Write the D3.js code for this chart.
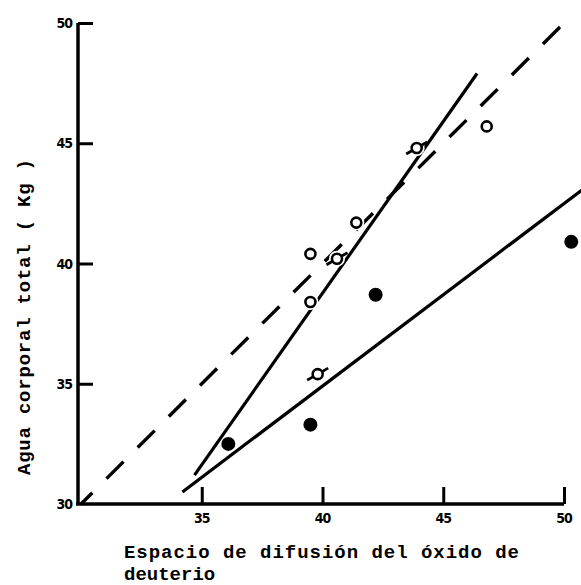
<!DOCTYPE html>
<html>
<head>
<meta charset="utf-8">
<script src="https://cdn.jsdelivr.net/npm/d3@7"></script>
<style>
  html, body { margin: 0; padding: 0; background: #fff; }
  svg { display: block; }
</style>
</head>
<body>
<svg id="chart" width="581" height="585"></svg>
<script>
// ---- data ----
const xTicks = [35, 40, 45, 50];
const yTicks = [30, 35, 40, 45, 50];
const openX = [39.5, 41.4, 46.8, 39.5];
const openY = [40.4, 41.7, 45.7, 38.4];
const barredX = [40.6, 43.9, 39.8];
const barredY = [40.2, 44.8, 35.4];
const filledX = [36.1, 39.5, 42.2, 50.3];
const filledY = [32.5, 33.3, 38.7, 40.9];
const identityLine = [[30, 30], [50.1, 50.1]];
const steepLine = [[34.7, 31.2], [46.4, 47.9]];
const shallowLine = [[34.2, 30.5], [50.8, 43.1]];
const xTitle1 = "Espacio de difusión del óxido de";
const xTitle2 = "deuterio";
const yTitle = "Agua corporal total ( Kg )";

// ---- drawing ----
const svg = d3.select("#chart");
const x = d3.scaleLinear().domain([30, 50]).range([81, 564]);
const y = d3.scaleLinear().domain([30, 50]).range([504, 23]);
const ink = "#000";
const tickFont = "'Liberation Sans Narrow', 'DejaVu Sans Condensed', 'Arial Narrow', sans-serif";
const monoFont = "'Liberation Mono', 'DejaVu Sans Mono', monospace";

// axes lines
svg.append("line").attr("x1", 78).attr("x2", 78).attr("y1", y(50)).attr("y2", 505)
  .attr("stroke", ink).attr("stroke-width", 3.5);
svg.append("line").attr("x1", 76).attr("x2", x(50)).attr("y1", 504).attr("y2", 504)
  .attr("stroke", ink).attr("stroke-width", 3.5);

// y ticks (inside, to the right)
const yAxis = d3.axisRight(y).tickValues(yTicks.filter(d => d !== 30)).tickSize(15).tickFormat("");
const gy = svg.append("g").attr("transform", "translate(78,0)").call(yAxis);
gy.select(".domain").remove();
gy.selectAll(".tick line").attr("stroke", ink).attr("stroke-width", 3);

// x ticks (inside, upward)
const xAxis = d3.axisTop(x).tickValues(xTicks).tickSize(17).tickFormat("");
const gx = svg.append("g").attr("transform", "translate(0,504)").call(xAxis);
gx.select(".domain").remove();
gx.selectAll(".tick line").attr("stroke", ink).attr("stroke-width", 3);

// tick labels
svg.append("g").selectAll("text").data(yTicks).join("text")
  .attr("x", 72).attr("y", d => y(d)).attr("dy", "0.36em")
  .attr("text-anchor", "end")
  .attr("font-family", tickFont).attr("font-weight", "bold").attr("font-size", 14)
  .attr("letter-spacing", -1)
  .text(d => d);
svg.append("g").selectAll("text").data(xTicks).join("text")
  .attr("x", d => x(d)).attr("y", 523)
  .attr("text-anchor", "middle")
  .attr("font-family", tickFont).attr("font-weight", "bold").attr("font-size", 14)
  .attr("letter-spacing", -1)
  .text(d => d);

// lines
const lineGen = d3.line().x(d => x(d[0])).y(d => y(d[1]));
svg.append("path").attr("d", lineGen(identityLine))
  .attr("fill", "none").attr("stroke", ink).attr("stroke-width", 3.4)
  .attr("stroke-dasharray", "24,20").attr("stroke-dashoffset", 8);
svg.append("path").attr("d", lineGen(steepLine))
  .attr("fill", "none").attr("stroke", ink).attr("stroke-width", 3.2);
svg.append("path").attr("d", lineGen(shallowLine))
  .attr("fill", "none").attr("stroke", ink).attr("stroke-width", 3.2);

// open circles (with white halo)
const openPts = openX.map((v, i) => [v, openY[i]]);
const barredPts = barredX.map((v, i) => [v, barredY[i]]);
const filledPts = filledX.map((v, i) => [v, filledY[i]]);

svg.append("g").selectAll("circle").data(openPts.concat(barredPts)).join("circle")
  .attr("cx", d => x(d[0])).attr("cy", d => y(d[1])).attr("r", 8).attr("fill", "#fff");

// bars through barred circles
svg.append("g").selectAll("line").data(barredPts).join("line")
  .attr("x1", d => x(d[0]) - 10.5).attr("y1", d => y(d[1]) + 6)
  .attr("x2", d => x(d[0]) + 10.5).attr("y2", d => y(d[1]) - 6)
  .attr("stroke", ink).attr("stroke-width", 2.8);

svg.append("g").selectAll("circle").data(openPts.concat(barredPts)).join("circle")
  .attr("cx", d => x(d[0])).attr("cy", d => y(d[1])).attr("r", 5)
  .attr("fill", "#fff").attr("stroke", ink).attr("stroke-width", 2.6);

svg.append("g").selectAll("circle").data(filledPts).join("circle")
  .attr("cx", d => x(d[0])).attr("cy", d => y(d[1])).attr("r", 7)
  .attr("fill", ink);

// axis titles
svg.append("text").attr("x", 124).attr("y", 558)
  .attr("font-family", monoFont).attr("font-weight", "bold").attr("font-size", 19)
  .attr("textLength", 395).attr("lengthAdjust", "spacing")
  .text(xTitle1);
svg.append("text").attr("x", 124).attr("y", 580)
  .attr("font-family", monoFont).attr("font-weight", "bold").attr("font-size", 19)
  .text(xTitle2);
svg.append("text").attr("transform", "translate(30,317) rotate(-90)")
  .attr("text-anchor", "middle")
  .attr("font-family", monoFont).attr("font-weight", "bold").attr("font-size", 19)
  .attr("textLength", 316).attr("lengthAdjust", "spacing")
  .text(yTitle);
</script>
</body>
</html>
